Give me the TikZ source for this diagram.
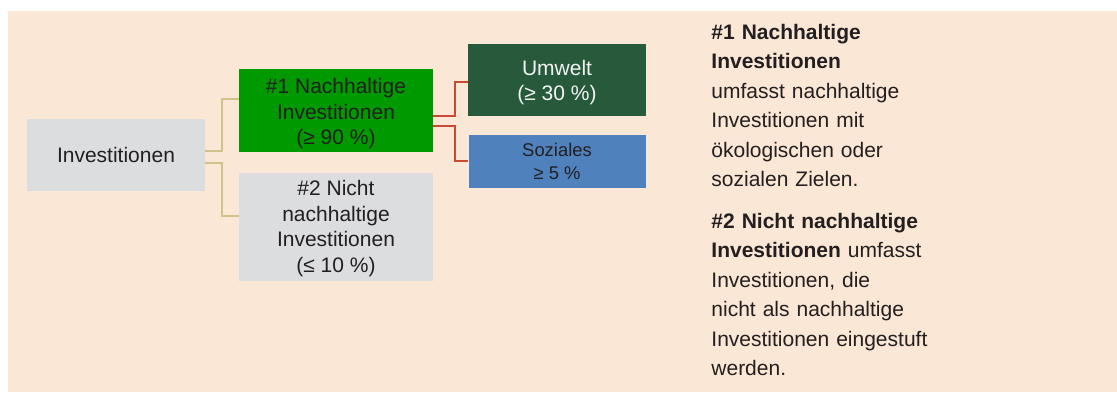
\documentclass[tikz,border=0pt]{standalone}
\usepackage{fontspec}
\setmainfont{Liberation Sans}
\usetikzlibrary{positioning}
\definecolor{bgbeige}{HTML}{FBE7D5}
\definecolor{boxgrey}{HTML}{DCDDDF}
\definecolor{susgreen}{HTML}{009900}
\definecolor{envgreen}{HTML}{265A3B}
\definecolor{socblue}{HTML}{4F81BD}
\definecolor{linetan}{HTML}{CFC38A}
\definecolor{linered}{HTML}{C84B31}
\definecolor{textdark}{HTML}{231F20}
\newcommand{\toplift}[1]{\rule{0pt}{#1}}
\tikzstyle{category} = [
    rectangle,
    inner sep=0pt,
    align=center,
    text=textdark,
    font=\fontsize{10.5}{12.75}\selectfont
]
\tikzstyle{note} = [
    inner sep=0pt,
    anchor=base west,
    align=left,
    text width=150pt,
    text=textdark,
    font=\fontsize{10.5}{14.75}\selectfont
]
\tikzstyle{branch} = [line width=1pt, draw=linetan]
\tikzstyle{subbranch} = [line width=1pt, draw=linered]

\begin{document}
\begin{tikzpicture}

\useasboundingbox (0,0) rectangle (558.5pt,-196pt);
\fill[bgbeige] (4pt,-5.5pt) rectangle (558.5pt,-196pt);

\node (inv) [category, fill=boxgrey, minimum width=89pt, minimum height=36pt]
    at (58pt,-77.5pt) {Investitionen};

\node (sus) [category, fill=susgreen, minimum width=97pt, minimum height=41.5pt]
    at (168pt,-55.25pt) {\toplift{11pt}\#1 Nachhaltige\\Investitionen\\(≥ 90 \%)};

\node (non) [category, fill=boxgrey, minimum width=97pt, minimum height=54pt,
    below=10pt of sus] {\toplift{9.5pt}\#2 Nicht\\nachhaltige\\Investitionen\\(≤ 10 \%)};

\node (env) [category, fill=envgreen, text=white!95!black, minimum width=89pt,
    minimum height=36pt] at (278.5pt,-40pt) {\toplift{10pt}Umwelt\\(≥ 30 \%)};

\node (soc) [category, fill=socblue, minimum width=88.5pt, minimum height=26.5pt,
    font=\fontsize{9.2}{11.5}\selectfont, below=9pt of env] {Soziales\\≥ 5 \%};

\draw [branch] ([yshift=2pt]inv.east) -- ++(8.5pt,0) |- ([yshift=5.75pt]sus.west);
\draw [branch] ([yshift=-4pt]inv.east) -- ++(8.5pt,0) |- ([yshift=5.5pt]non.west);
\draw [subbranch] ([yshift=-2.75pt]sus.east) -- ++(11pt,0) |- ([yshift=-1pt]env.west);
\draw [subbranch] ([yshift=-7.75pt]sus.east) -- ++(11pt,0) |- (soc.west);

\node (note1) [note] at (355.5pt,-19.65pt)
    {\textbf{\#1 Nachhaltige}\\\textbf{Investitionen}\\umfasst nachhaltige\\Investitionen mit\\ökologischen oder\\sozialen Zielen.};

\node (note2) [note] at (355.5pt,-114.15pt)
    {\textbf{\#2 Nicht nachhaltige}\\\textbf{Investitionen} umfasst\\Investitionen, die\\nicht als nachhaltige\\Investitionen eingestuft\\werden.};

\end{tikzpicture}
\end{document}
